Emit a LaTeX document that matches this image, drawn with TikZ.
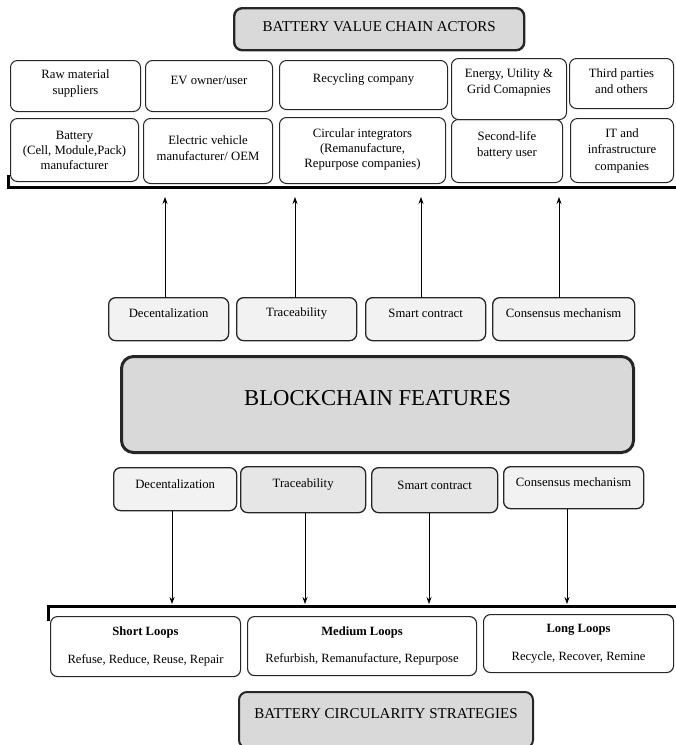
\documentclass[tikz,border=0pt]{standalone}
\usepackage{fontspec}
\setmainfont{Liberation Serif}
\usetikzlibrary{arrows.meta}
\definecolor{titlegray}{HTML}{D9D9D9}
\definecolor{featlight}{HTML}{F2F2F2}
\definecolor{featmid}{HTML}{E6E6E6}
\definecolor{edge}{HTML}{262626}
\tikzset{
  basebox/.style={draw=edge, rounded corners=7pt, inner sep=0pt, anchor=north west},
  actor/.style={basebox, line width=1pt},
  headbox/.style={basebox, fill=titlegray, line width=2.4pt, rounded corners=8pt},
  featbox/.style={basebox, fill=featlight, line width=1.3pt},
  featdark/.style={featbox, fill=featmid},
  loopbox/.style={basebox, line width=1.1pt},
  txt/.style={align=center, inner sep=0pt, font=\fontsize{12.7}{16}\selectfont},
  txtrow/.style={txt, font=\fontsize{12.7}{15}\selectfont},
  txtloop/.style={txt, font=\fontsize{12.6}{27.5}\selectfont},
  bar/.style={line width=3pt, draw=black},
  arr/.style={line width=0.8pt, -{Stealth[length=7pt,width=5pt]}},
}
\begin{document}
\begin{tikzpicture}[x=1pt,y=-1pt]
\useasboundingbox (0,0) rectangle (676,745);

% ---- top heading ----
\node[headbox, minimum width=290pt, minimum height=42pt,
      label={[txt, font=\fontsize{15}{17}\selectfont, yshift=3pt]center:BATTERY VALUE CHAIN ACTORS}] (actors) at (233,7) {};

% ---- actors, first row ----
\node[actor, minimum width=130pt, minimum height=51pt,
      label={[txt, yshift=3pt]center:Raw material\\suppliers}] (raw) at (10,60) {};
\node[actor, minimum width=127pt, minimum height=51pt,
      label={[txt, yshift=5.5pt]center:EV owner/user}] (evuser) at (145,60) {};
\node[actor, minimum width=168pt, minimum height=49pt,
      label={[txt, yshift=5.5pt]center:Recycling company}] (recyc) at (279,60) {};
\node[actor, minimum width=115pt, minimum height=61pt,
      label={[txt, yshift=7pt]center:Energy, Utility \&\\Grid Comapnies}] (energy) at (451,58) {};
\node[actor, minimum width=104pt, minimum height=50pt,
      label={[txt, yshift=2pt]center:Third parties\\and others}] (third) at (569,58) {};

% ---- actors, second row ----
\node[actor, minimum width=128pt, minimum height=63pt,
      label={[txtrow]center:Battery\\(Cell, Module,Pack)\\manufacturer}] (battery) at (10,118) {};
\node[actor, minimum width=129pt, minimum height=65pt,
      label={[txt, yshift=2.5pt]center:Electric vehicle\\manufacturer/ OEM}] (oem) at (143,118) {};
\node[actor, minimum width=166pt, minimum height=66pt,
      label={[txtrow, yshift=1.5pt]center:Circular integrators\\(Remanufacture,\\Repurpose companies)}] (circ) at (279,117) {};
\node[actor, minimum width=111pt, minimum height=63pt,
      label={[txt, yshift=5.5pt]center:Second-life\\battery user}] (second) at (451,119) {};
\node[actor, minimum width=103pt, minimum height=64pt,
      label={[txtrow, font=\fontsize{12.7}{16.5}\selectfont]center:IT and\\infrastructure\\companies}] (itinfra) at (570,118) {};

% bracket under the actors
\draw[bar] (8,175) -- (8,187) -- (677,187);
\coordinate (topbar) at (0,197);

% ---- features feeding the actors ----
\node[featbox, minimum width=120pt, minimum height=43pt,
      label={[txt, yshift=5.5pt]center:Decentalization}] (upd) at (108,297) {};
\node[featbox, minimum width=120pt, minimum height=43pt,
      label={[txt, yshift=5.5pt]center:Traceability}] (upt) at (236,297) {};
\node[featbox, minimum width=120pt, minimum height=43pt,
      label={[txt, yshift=5.5pt]center:Smart contract}] (ups) at (365,297) {};
\node[featbox, minimum width=142pt, minimum height=43pt,
      label={[txt, yshift=5.5pt]center:Consensus mechanism}] (upc) at (492,297) {};

\coordinate (ua) at (165,0);
\coordinate (ub) at (295,0);
\coordinate (uc) at (421,0);
\coordinate (ud) at (559,0);
\draw[arr] (ua |- upd.north) -- (ua |- topbar);
\draw[arr] (ub |- upt.north) -- (ub |- topbar);
\draw[arr] (uc |- ups.north) -- (uc |- topbar);
\draw[arr] (ud |- upc.north) -- (ud |- topbar);

% ---- central block ----
\node[headbox, line width=3pt, rounded corners=12pt, minimum width=512pt, minimum height=96pt,
      label={[txt, font=\fontsize{22.7}{25}\selectfont, yshift=6pt]center:BLOCKCHAIN FEATURES}] (chain) at (120,355) {};

% ---- features feeding the strategies ----
\node[featbox, minimum width=123pt, minimum height=43pt,
      label={[txt, yshift=5.5pt]center:Decentalization}] (lod) at (113,467) {};
\node[featdark, minimum width=125pt, minimum height=46pt,
      label={[txt, yshift=5pt]center:Traceability}] (lot) at (240,466) {};
\node[featdark, minimum width=126pt, minimum height=45pt,
      label={[txt, yshift=5pt]center:Smart contract}] (los) at (371,467) {};
\node[featbox, minimum width=140pt, minimum height=42pt,
      label={[txt, yshift=6pt]center:Consensus mechanism}] (loc) at (503,466) {};

% bracket over the strategies
\draw[bar] (48,621) -- (48,606) -- (677,606);
\coordinate (lowbar) at (0,604);

\coordinate (la) at (172,0);
\coordinate (lb) at (305,0);
\coordinate (lc) at (429,0);
\coordinate (ld) at (567,0);
\draw[arr] (la |- lod.south) -- (la |- lowbar);
\draw[arr] (lb |- lot.south) -- (lb |- lowbar);
\draw[arr] (lc |- los.south) -- (lc |- lowbar);
\draw[arr] (ld |- loc.south) -- (ld |- lowbar);

% ---- circularity strategies ----
\node[loopbox, minimum width=190pt, minimum height=60pt,
      label={[txtloop]center:\textbf{Short Loops}\\Refuse, Reduce, Reuse, Repair}] (short) at (50,616) {};
\node[loopbox, minimum width=229pt, minimum height=59pt,
      label={[txtloop]center:\textbf{Medium Loops}\\Refurbish, Remanufacture, Repurpose}] (medium) at (247,616) {};
\node[loopbox, minimum width=190pt, minimum height=58pt,
      label={[txtloop]center:\textbf{Long Loops}\\Recycle, Recover, Remine}] (long) at (483,614) {};

% ---- bottom heading ----
\node[headbox, line width=2pt, minimum width=294pt, minimum height=56pt,
      label={[txt, font=\fontsize{15}{17}\selectfont, yshift=6pt]center:BATTERY CIRCULARITY STRATEGIES}] (strat) at (238,691) {};
\end{tikzpicture}
\end{document}
